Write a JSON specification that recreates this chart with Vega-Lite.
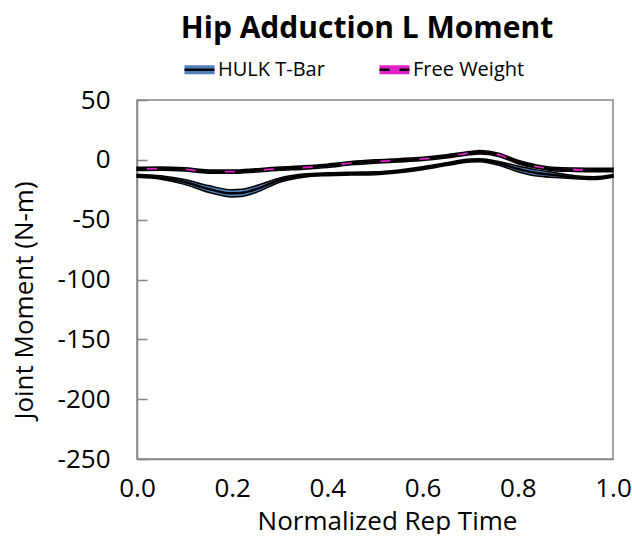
{
  "$schema": "https://vega.github.io/schema/vega-lite/v6.json",
  "width": 476,
  "height": 359,
  "padding": {"left": 11, "top": 14, "right": 0, "bottom": 0},
  "background": "white",
  "config": {
    "font": "Open Sans",
    "view": {"stroke": "#868686", "strokeWidth": 1.5}
  },
  "title": {
    "text": "Hip Adduction L Moment",
    "fontSize": 30,
    "fontWeight": "bold",
    "font": "Open Sans",
    "color": "black",
    "offset": 9,
    "dx": -8
  },
  "data": {
    "values": [
      {"series": "HULK T-Bar", "t": 0.0, "mean": -13.3, "lo": -14.6, "hi": -12.0},
      {"series": "HULK T-Bar", "t": 0.05, "mean": -14.8, "lo": -16.2, "hi": -13.4},
      {"series": "HULK T-Bar", "t": 0.1, "mean": -18.5, "lo": -20.5, "hi": -16.5},
      {"series": "HULK T-Bar", "t": 0.15, "mean": -24.3, "lo": -27.1, "hi": -21.5},
      {"series": "HULK T-Bar", "t": 0.2, "mean": -28.0, "lo": -31.0, "hi": -25.0},
      {"series": "HULK T-Bar", "t": 0.22, "mean": -27.6, "lo": -30.6, "hi": -24.6},
      {"series": "HULK T-Bar", "t": 0.25, "mean": -24.5, "lo": -27.3, "hi": -21.7},
      {"series": "HULK T-Bar", "t": 0.3, "mean": -16.9, "lo": -18.7, "hi": -15.1},
      {"series": "HULK T-Bar", "t": 0.35, "mean": -13.2, "lo": -14.5, "hi": -11.9},
      {"series": "HULK T-Bar", "t": 0.4, "mean": -12.0, "lo": -13.2, "hi": -10.8},
      {"series": "HULK T-Bar", "t": 0.45, "mean": -11.5, "lo": -12.7, "hi": -10.3},
      {"series": "HULK T-Bar", "t": 0.5, "mean": -11.2, "lo": -12.4, "hi": -10.0},
      {"series": "HULK T-Bar", "t": 0.55, "mean": -9.6, "lo": -10.8, "hi": -8.4},
      {"series": "HULK T-Bar", "t": 0.6, "mean": -7.0, "lo": -8.2, "hi": -5.8},
      {"series": "HULK T-Bar", "t": 0.65, "mean": -3.6, "lo": -4.8, "hi": -2.4},
      {"series": "HULK T-Bar", "t": 0.7, "mean": -0.6, "lo": -1.8, "hi": 0.6},
      {"series": "HULK T-Bar", "t": 0.72, "mean": -0.3, "lo": -1.5, "hi": 0.9},
      {"series": "HULK T-Bar", "t": 0.76, "mean": -2.9, "lo": -4.5, "hi": -1.3},
      {"series": "HULK T-Bar", "t": 0.8, "mean": -7.5, "lo": -9.9, "hi": -5.1},
      {"series": "HULK T-Bar", "t": 0.84, "mean": -11.0, "lo": -13.6, "hi": -8.4},
      {"series": "HULK T-Bar", "t": 0.88, "mean": -12.8, "lo": -14.8, "hi": -10.8},
      {"series": "HULK T-Bar", "t": 0.92, "mean": -14.5, "lo": -15.8, "hi": -13.2},
      {"series": "HULK T-Bar", "t": 0.96, "mean": -15.3, "lo": -16.5, "hi": -14.1},
      {"series": "HULK T-Bar", "t": 1.0, "mean": -13.4, "lo": -14.6, "hi": -12.2},
      {"series": "Free Weight", "t": 0.0, "mean": -7.6, "lo": -9.0, "hi": -6.2},
      {"series": "Free Weight", "t": 0.05, "mean": -7.3, "lo": -8.7, "hi": -5.9},
      {"series": "Free Weight", "t": 0.1, "mean": -8.0, "lo": -9.4, "hi": -6.6},
      {"series": "Free Weight", "t": 0.15, "mean": -9.8, "lo": -11.2, "hi": -8.4},
      {"series": "Free Weight", "t": 0.2, "mean": -9.9, "lo": -11.3, "hi": -8.5},
      {"series": "Free Weight", "t": 0.25, "mean": -8.8, "lo": -10.2, "hi": -7.4},
      {"series": "Free Weight", "t": 0.3, "mean": -7.4, "lo": -8.8, "hi": -6.0},
      {"series": "Free Weight", "t": 0.35, "mean": -6.4, "lo": -7.8, "hi": -5.0},
      {"series": "Free Weight", "t": 0.4, "mean": -5.0, "lo": -6.4, "hi": -3.6},
      {"series": "Free Weight", "t": 0.45, "mean": -2.8, "lo": -4.2, "hi": -1.4},
      {"series": "Free Weight", "t": 0.5, "mean": -1.4, "lo": -2.8, "hi": 0.0},
      {"series": "Free Weight", "t": 0.55, "mean": -0.4, "lo": -1.8, "hi": 1.0},
      {"series": "Free Weight", "t": 0.6, "mean": 0.8, "lo": -0.6, "hi": 2.2},
      {"series": "Free Weight", "t": 0.65, "mean": 2.9, "lo": 1.5, "hi": 4.3},
      {"series": "Free Weight", "t": 0.7, "mean": 5.6, "lo": 4.2, "hi": 7.0},
      {"series": "Free Weight", "t": 0.72, "mean": 6.3, "lo": 4.9, "hi": 7.7},
      {"series": "Free Weight", "t": 0.76, "mean": 4.2, "lo": 2.8, "hi": 5.6},
      {"series": "Free Weight", "t": 0.8, "mean": -1.8, "lo": -3.2, "hi": -0.4},
      {"series": "Free Weight", "t": 0.84, "mean": -5.7, "lo": -7.1, "hi": -4.3},
      {"series": "Free Weight", "t": 0.88, "mean": -7.9, "lo": -9.3, "hi": -6.5},
      {"series": "Free Weight", "t": 0.92, "mean": -8.3, "lo": -9.7, "hi": -6.9},
      {"series": "Free Weight", "t": 0.96, "mean": -8.5, "lo": -9.9, "hi": -7.1},
      {"series": "Free Weight", "t": 1.0, "mean": -8.5, "lo": -9.9, "hi": -7.1}
    ]
  },
  "layer": [
    {
      "mark": {"type": "area", "interpolate": "monotone", "stroke": "black", "strokeWidth": 1.5, "opacity": 1},
      "encoding": {
        "x": {
          "field": "t", "type": "quantitative",
          "scale": {"domain": [0, 1], "nice": false, "zero": false},
          "axis": {
            "title": "Normalized Rep Time",
            "values": [0, 0.2, 0.4, 0.6, 0.8, 1.0],
            "format": ".1f",
            "labelFlush": false,
            "labelOverlap": false,
            "grid": false,
            "ticks": false,
            "domainColor": "#868686",
            "domainWidth": 1.5,
            "labelFontSize": 26,
            "labelColor": "black",
            "labelPadding": 16,
            "labelFont": "Open Sans",
            "titleFont": "Open Sans",
            "titleFontSize": 26,
            "titleFontWeight": "normal",
            "titleColor": "black",
            "titlePadding": 7,
            "titleX": 250
          }
        },
        "y": {
          "field": "lo", "type": "quantitative",
          "scale": {"domain": [-250, 50], "nice": false, "zero": false},
          "axis": {
            "title": "Joint Moment (N-m)",
            "values": [-250, -200, -150, -100, -50, 0, 50],
            "labelExpr": "datum.value < 0 ? '-' + abs(datum.value) : '' + datum.value",
            "labelFlush": false,
            "grid": false,
            "ticks": true,
            "tickSize": -10,
            "tickColor": "#868686",
            "tickWidth": 1.5,
            "domainColor": "#868686",
            "domainWidth": 1.5,
            "labelFontSize": 26,
            "labelColor": "black",
            "labelPadding": 37,
            "labelFont": "Open Sans",
            "titleFont": "Open Sans",
            "titleFontSize": 26,
            "titleFontWeight": "normal",
            "titleColor": "black",
            "titlePadding": 20,
            "titleY": 200
          }
        },
        "y2": {"field": "hi"},
        "fill": {
          "field": "series", "type": "nominal",
          "scale": {"domain": ["HULK T-Bar", "Free Weight"], "range": ["#4F81BD", "#E020C8"]},
          "legend": {
            "title": null,
            "orient": "none",
            "legendX": 46,
            "legendY": -47,
            "direction": "horizontal",
            "symbolType": "M-1,-0.3L1,-0.3L1,0.3L-1,0.3Z",
            "symbolSize": 900,
            "symbolStrokeColor": "transparent",
            "symbolStrokeWidth": 2.5,
            "symbolOpacity": 1,
            "labelFontSize": 20,
            "labelFont": "Open Sans",
            "labelColor": "black",
            "labelOffset": 2,
            "columnPadding": 49
          }
        }
      }
    },
    {
      "mark": {"type": "line", "interpolate": "monotone", "color": "black", "strokeWidth": 2.5, "strokeDashOffset": 19},
      "encoding": {
        "x": {"field": "t", "type": "quantitative"},
        "y": {"field": "mean", "type": "quantitative"},
        "detail": {"field": "series", "type": "nominal"},
        "strokeDash": {
          "field": "series", "type": "nominal",
          "sort": "descending",
          "scale": {"range": [[1, 0], [29, 10]]},
          "legend": {
            "title": null,
            "orient": "none",
            "legendX": 46,
            "legendY": -47,
            "direction": "horizontal",
            "symbolType": "stroke",
            "symbolSize": 900,
            "symbolStrokeColor": "black",
            "symbolStrokeWidth": 2.5,
            "symbolDashOffset": 19,
            "symbolOpacity": 1,
            "labelFontSize": 20,
            "labelFont": "Open Sans",
            "labelColor": "transparent",
            "labelOffset": 2,
            "columnPadding": 49
          }
        }
      }
    }
  ]
}
